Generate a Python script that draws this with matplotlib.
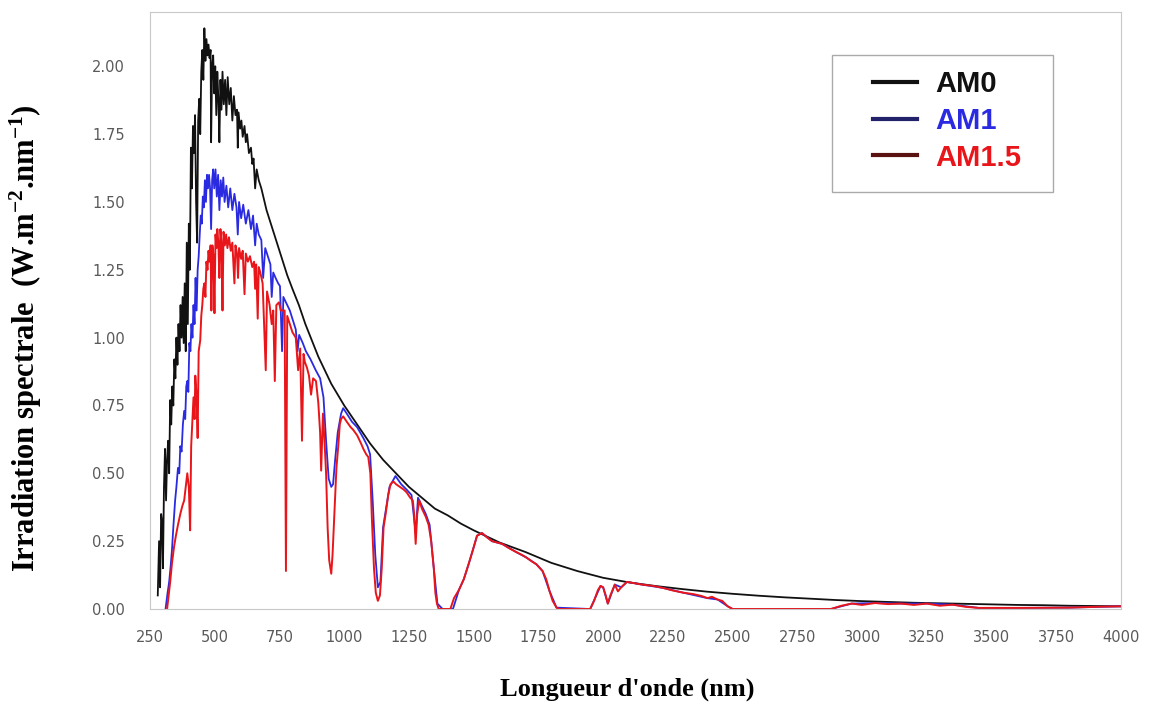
import matplotlib
matplotlib.use("Agg")
import matplotlib.pyplot as plt
from matplotlib.lines import Line2D
from matplotlib.patches import Rectangle

plt.rcParams["mathtext.fontset"] = "custom"
plt.rcParams["mathtext.rm"] = "Liberation Serif:bold"
plt.rcParams["mathtext.it"] = "Liberation Serif:bold"
plt.rcParams["mathtext.bf"] = "Liberation Serif:bold"

# AM0 spectrum (extraterrestrial)
wl_am0 = [280, 285, 289, 293, 297, 300, 304, 308, 312, 316, 320, 324, 328, 332, 336, 340, 344, 348,
          352, 356, 360, 364, 368, 372, 376, 380, 384, 388, 392, 396, 400, 404, 408, 412, 416, 420,
          424, 428, 432, 436, 440, 444, 448, 452, 456, 460, 464, 468, 472, 476, 480, 484, 486, 490,
          494, 498, 502, 506, 510, 514, 518, 522, 526, 530, 535, 540, 545, 550, 556, 562, 568, 574,
          580, 586, 589, 592, 598, 603, 608, 615, 620, 625, 632, 640, 645, 650, 656, 662, 670, 680,
          690, 700, 720, 740, 760, 780, 800, 825, 850, 875, 900, 925, 950, 975, 1000, 1050, 1100,
          1150, 1200, 1250, 1300, 1350, 1400, 1450, 1500, 1600, 1700, 1800, 1900, 2000, 2100, 2200,
          2300, 2400, 2500, 2600, 2700, 2800, 2900, 3000, 3100, 3200, 3300, 3400, 3500, 3600, 3700,
          3800, 3900, 4000]
am0 = [0.05, 0.25, 0.08, 0.35, 0.32, 0.15, 0.45, 0.59, 0.40, 0.55, 0.62, 0.50, 0.77, 0.68, 0.82, 0.75,
       0.92, 0.85, 1.00, 0.90, 1.05, 0.95, 1.12, 1.00, 1.15, 0.98, 1.20, 0.95, 1.35, 1.05, 1.42, 1.25,
       1.70, 1.55, 1.78, 1.68, 1.82, 1.50, 1.35, 1.80, 1.88, 1.75, 1.98, 2.06, 1.95, 2.14, 2.02, 2.10,
       2.04, 2.08, 2.03, 2.06, 1.72, 2.00, 2.04, 1.90, 2.00, 1.82, 1.98, 1.88, 1.72, 1.95, 1.84, 1.98,
       1.86, 1.95, 1.82, 1.96, 1.86, 1.92, 1.80, 1.89, 1.82, 1.84, 1.70, 1.83, 1.77, 1.80, 1.74, 1.78,
       1.72, 1.75, 1.68, 1.70, 1.64, 1.66, 1.55, 1.62, 1.58, 1.55, 1.51, 1.47, 1.41, 1.35, 1.29, 1.23,
       1.18, 1.12, 1.05, 0.99, 0.93, 0.88, 0.83, 0.79, 0.75, 0.68, 0.61, 0.55, 0.50, 0.45, 0.41, 0.37,
       0.345, 0.315, 0.29, 0.245, 0.21, 0.17, 0.14, 0.115, 0.098, 0.085, 0.074, 0.064, 0.056, 0.049,
       0.043, 0.038, 0.033, 0.029, 0.026, 0.023, 0.021, 0.019, 0.017, 0.015, 0.014, 0.012, 0.011, 0.010]

# AM1 spectrum
wl_am1 = [310, 318, 324, 330, 335, 340, 347, 352, 358, 363, 367, 372, 377, 382, 386, 390, 394, 398,
          402, 406, 410, 414, 418, 422, 426, 430, 434, 438, 442, 446, 450, 454, 458, 462, 466, 470,
          474, 478, 482, 486, 490, 494, 498, 503, 508, 513, 518, 523, 528, 533, 538, 545, 552, 560,
          568, 576, 584, 589, 594, 602, 610, 620, 630, 640, 648, 656, 662, 670, 680, 687, 695, 705,
          715, 720, 726, 735, 745, 752, 760, 765, 775, 790, 800, 813, 820, 826, 840, 852, 870, 890,
          907, 920, 930, 940, 950, 957, 965, 975, 988, 996, 1010, 1030, 1050, 1074, 1090, 1100, 1110,
          1120, 1130, 1140, 1150, 1160, 1175, 1198, 1220, 1241, 1260, 1276, 1285, 1300, 1315, 1330,
          1345, 1360, 1380, 1420, 1443, 1462, 1482, 1513, 1532, 1571, 1610, 1664, 1703, 1742, 1766,
          1793, 1820, 1950, 1990, 2000, 2018, 2045, 2070, 2092, 2150, 2230, 2310, 2403, 2442, 2481,
          2500, 2880, 2960, 3050, 3150, 3250, 3350, 3450, 3600, 3800, 4000]
am1 = [0.0, 0.06, 0.10, 0.16, 0.22, 0.30, 0.40, 0.45, 0.52, 0.50, 0.60, 0.58, 0.68, 0.73, 0.70, 0.82,
       0.84, 0.80, 0.98, 0.95, 1.05, 1.00, 1.12, 1.05, 1.22, 1.10, 1.25, 1.30, 1.38, 1.45, 1.42, 1.52,
       1.48, 1.58, 1.50, 1.60, 1.55, 1.60, 1.55, 1.40, 1.58, 1.62, 1.55, 1.62, 1.52, 1.60, 1.47, 1.58,
       1.52, 1.59, 1.50, 1.56, 1.48, 1.55, 1.47, 1.53, 1.48, 1.38, 1.50, 1.44, 1.49, 1.42, 1.47, 1.40,
       1.45, 1.34, 1.42, 1.38, 1.36, 1.22, 1.33, 1.30, 1.27, 1.15, 1.24, 1.22, 1.20, 1.19, 0.95, 1.15,
       1.13, 1.10, 1.07, 1.03, 0.95, 1.01, 0.98, 0.95, 0.92, 0.88, 0.85, 0.78, 0.62, 0.48, 0.45, 0.46,
       0.55, 0.65, 0.72, 0.74, 0.72, 0.69, 0.67, 0.63, 0.60, 0.57, 0.40, 0.20, 0.08, 0.10, 0.30, 0.36,
       0.45, 0.49, 0.46, 0.44, 0.42, 0.28, 0.41, 0.38, 0.35, 0.31, 0.16, 0.02, 0.0, 0.0, 0.07, 0.11,
       0.17, 0.27, 0.28, 0.25, 0.24, 0.21, 0.19, 0.165, 0.14, 0.066, 0.005, 0.0, 0.085, 0.08,
       0.02, 0.09, 0.08, 0.10, 0.09, 0.078, 0.06, 0.04, 0.035, 0.01, 0.0, 0.0, 0.02, 0.022, 0.02, 0.02,
       0.016, 0.004, 0.004, 0.005, 0.01]

# AM1.5 spectrum
wl_am15 = [316, 322, 328, 335, 343, 350, 358, 367, 375, 382, 388, 394, 400, 405, 409, 413, 418, 422,
           425, 429, 434, 438, 444, 448, 452, 456, 460, 464, 468, 472, 476, 480, 484, 487, 491, 495,
           499, 503, 507, 510, 514, 518, 522, 526, 530, 534, 539, 544, 549, 555, 562, 568, 576, 580,
           586, 590, 594, 602, 608, 615, 620, 628, 636, 645, 652, 656, 660, 666, 670, 676, 685, 697,
           702, 712, 720, 726, 732, 738, 748, 755, 770, 775, 780, 790, 800, 813, 822, 830, 837, 843,
           848, 856, 864, 872, 880, 891, 900, 907, 911, 918, 925, 930, 936, 942, 950, 955, 962, 970,
           977, 983, 988, 996, 1010, 1025, 1035, 1050, 1065, 1074, 1085, 1093, 1101, 1107, 1115, 1122,
           1130, 1138, 1145, 1152, 1160, 1170, 1179, 1190, 1200, 1215, 1230, 1241, 1255, 1265, 1270,
           1276, 1282, 1290, 1300, 1315, 1326, 1336, 1346, 1352, 1358, 1365, 1410, 1424, 1443, 1462,
           1482, 1498, 1513, 1532, 1550, 1571, 1590, 1610, 1635, 1664, 1685, 1703, 1725, 1742, 1766,
           1780, 1793, 1805, 1820, 1830, 1950, 1965, 1980, 1990, 2000, 2010, 2018, 2028, 2045, 2057,
           2070, 2092, 2120, 2150, 2193, 2230, 2270, 2310, 2348, 2380, 2403, 2420, 2442, 2460, 2481,
           2500, 2880, 2920, 2960, 3000, 3050, 3100, 3150, 3200, 3250, 3300, 3350, 3400, 3450, 3600,
           3800, 3900, 4000]
am15 = [0.0, 0.05, 0.10, 0.17, 0.23, 0.27, 0.31, 0.35, 0.38, 0.40, 0.45, 0.50, 0.45, 0.29, 0.60,
        0.68, 0.78, 0.70, 0.86, 0.80, 0.63, 0.95, 0.99, 1.08, 1.12, 1.18, 1.20, 1.15, 1.28, 1.25, 1.32,
        1.28, 1.34, 1.10, 1.34, 1.30, 1.09, 1.38, 1.33, 1.40, 1.35, 1.22, 1.40, 1.35, 1.10, 1.39, 1.34,
        1.38, 1.33, 1.37, 1.32, 1.35, 1.20, 1.34, 1.31, 1.22, 1.33, 1.29, 1.32, 1.16, 1.31, 1.28, 1.30,
        1.26, 1.28, 1.18, 1.27, 1.07, 1.26, 1.24, 1.20, 0.88, 1.17, 1.12, 1.05, 1.10, 0.84, 1.12, 1.13,
        1.10, 1.10, 0.14, 1.08, 1.05, 1.02, 1.00, 0.88, 0.96, 0.62, 0.94, 0.91, 0.89, 0.86, 0.79, 0.85,
        0.84, 0.76, 0.65, 0.51, 0.72, 0.60, 0.50, 0.30, 0.18, 0.13, 0.20, 0.35, 0.52, 0.60, 0.68, 0.70,
        0.71, 0.69, 0.67, 0.66, 0.64, 0.61, 0.59, 0.57, 0.56, 0.50, 0.33, 0.15, 0.06, 0.03, 0.05, 0.15,
        0.30, 0.35, 0.42, 0.46, 0.47, 0.46, 0.45, 0.44, 0.43, 0.41, 0.40, 0.35, 0.24, 0.35, 0.40, 0.37,
        0.34, 0.31, 0.25, 0.15, 0.06, 0.02, 0.0, 0.0, 0.04, 0.07, 0.11, 0.17, 0.22, 0.27, 0.28, 0.265,
        0.25, 0.245, 0.24, 0.225, 0.21, 0.20, 0.19, 0.175, 0.165, 0.14, 0.11, 0.066, 0.03, 0.005, 0.0,
        0.0, 0.03, 0.07, 0.085, 0.08, 0.05, 0.02, 0.05, 0.09, 0.065, 0.08, 0.10, 0.095, 0.09, 0.085,
        0.078, 0.068, 0.06, 0.055, 0.048, 0.04, 0.045, 0.035, 0.03, 0.01, 0.0, 0.0, 0.012, 0.02, 0.015,
        0.022, 0.018, 0.02, 0.015, 0.02, 0.012, 0.016, 0.008, 0.004, 0.004, 0.005, 0.008, 0.01]

xticks = [250, 500, 750, 1000, 1250, 1500, 1750, 2000, 2250, 2500, 2750, 3000, 3250, 3500, 3750, 4000]
yticks = [0.0, 0.25, 0.5, 0.75, 1.0, 1.25, 1.5, 1.75, 2.0]

W, H = 1152, 715
fig = plt.figure(figsize=(W / 100, H / 100), dpi=100)
ax = fig.add_axes([150 / W, 1 - 609 / H, (1121 - 150) / W, (609 - 12) / H])

ax.plot(wl_am0, am0, color="#111111", lw=1.3)
ax.plot(wl_am1, am1, color="#2a2ae0", lw=1.3)
ax.plot(wl_am15, am15, color="#e8161b", lw=1.4)

ax.set_xlim(250, 4000)
ax.set_ylim(0, 2.2)
ax.set_xticks(xticks)
ax.set_yticks(yticks)
ax.set_yticklabels([f"{v:.2f}" for v in yticks])
ax.tick_params(length=0, labelsize=10.5, labelcolor="#5a5a5a")
ax.tick_params(axis="y", pad=18)
ax.tick_params(axis="x", pad=15)
for s in ax.spines.values():
    s.set_color("#c8c8c8")

ax.set_xlabel("Longueur d'onde (nm)", family="Liberation Serif", weight="bold", fontsize=19)
ax.xaxis.set_label_coords((627 - 150) / 971, (609 - 678) / 597)
ax.set_ylabel(r"Irradiation spectrale  (W.m$^{-2}$.nm$^{-1}$)", family="Liberation Serif",
              weight="bold", fontsize=22)
ax.yaxis.set_label_coords((44 - 150) / 971, (609 - 338) / 597)

# legend box drawn as a plain frame, entries placed inside it
fig.patches.append(Rectangle((832 / W, 1 - 192 / H), (1053 - 832) / W, (192 - 55) / H,
                             transform=fig.transFigure, facecolor="white", edgecolor="#aaaaaa",
                             lw=1.0, zorder=5))
handles = [Line2D([], [], color="#111111", lw=3),
           Line2D([], [], color="#22226a", lw=3),
           Line2D([], [], color="#5a1212", lw=3)]
leg = fig.legend(handles, ["AM0", "AM1", "AM1.5"], loc="upper left",
                 bbox_to_anchor=(873 / W, 1 - 70 / H), bbox_transform=fig.transFigure,
                 prop={"family": "Liberation Sans", "size": 21, "weight": "bold"},
                 handlelength=1.5, handletextpad=0.65, borderpad=0, labelspacing=0.3,
                 borderaxespad=0, frameon=False)
leg.set_zorder(6)
for t, c in zip(leg.get_texts(), ["#111111", "#2a2ae0", "#e8161b"]):
    t.set_color(c)

fig.savefig("out.png", dpi=100)
